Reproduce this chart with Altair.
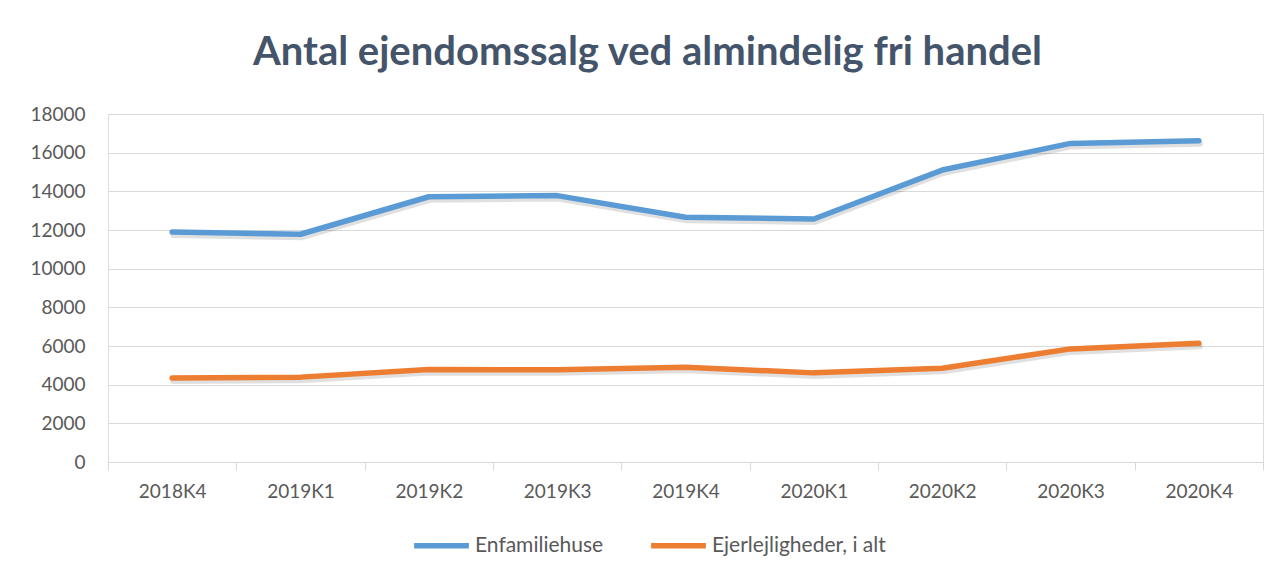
import altair as alt
import pandas as pd

quarters = ["2018K4", "2019K1", "2019K2", "2019K3", "2019K4", "2020K1", "2020K2", "2020K3", "2020K4"]
enfamiliehuse = [11900, 11780, 13720, 13780, 12660, 12570, 15100, 16480, 16620]
ejerlejligheder = [4340, 4390, 4790, 4770, 4900, 4610, 4850, 5850, 6140]
series_names = ["Enfamiliehuse", "Ejerlejligheder, i alt"]
series_colors = ["#5B9BD5", "#ED7D31"]
y_ticks = list(range(0, 18001, 2000))

rows = []
for q, v in zip(quarters, enfamiliehuse):
    rows.append({"kvartal": q, "serie": series_names[0], "antal": v})
for q, v in zip(quarters, ejerlejligheder):
    rows.append({"kvartal": q, "serie": series_names[1], "antal": v})
df = pd.DataFrame(rows)

FONT = "Lato"
W, H = 1155, 348

x_enc = alt.X("kvartal:O", sort=quarters, bandPosition=0.5,
              scale=alt.Scale(type="band", paddingInner=0, paddingOuter=0),
              axis=alt.Axis(title=None, labelAngle=0, tickBand="extent", tickSize=8,
                            tickColor="#D9D9D9", domainColor="#D9D9D9", grid=False,
                            labelFontSize=19, labelColor="#595959", labelFont=FONT,
                            labelPadding=12))
y_enc = alt.Y("antal:Q", scale=alt.Scale(domain=[0, 18000], nice=False),
              axis=alt.Axis(title=None, values=y_ticks, format="d", ticks=False, domain=False,
                            gridColor="#D9D9D9", labelFontSize=19, labelColor="#595959",
                            labelFont=FONT, labelPadding=23))

shadow = alt.Chart(df).mark_line(strokeWidth=6, color="#000000", opacity=0.12,
                                  xOffset=1, yOffset=3, strokeCap="round").encode(
    x=x_enc, y=y_enc, detail="serie:N"
)

lines = alt.Chart(df).mark_line(strokeWidth=5.5, strokeCap="round", strokeJoin="round").encode(
    x=x_enc, y=y_enc,
    color=alt.Color("serie:N", sort=series_names,
                    scale=alt.Scale(domain=series_names, range=series_colors),
                    legend=alt.Legend(title=None, orient="none", direction="horizontal",
                                      legendX=303, legendY=401, symbolType="stroke",
                                      symbolSize=3000, symbolStrokeWidth=5.5,
                                      labelFontSize=21, labelColor="#595959", labelFont=FONT,
                                      labelLimit=500, columnPadding=36, labelOffset=3))
)

chart = alt.layer(shadow, lines).properties(
    width=W, height=H,
    title=alt.TitleParams("Antal ejendomssalg ved almindelig fri handel", anchor="middle",
                          fontSize=40, font=FONT, fontWeight="bold", color="#44546A",
                          dx=-38, offset=32),
    autosize=alt.AutoSizeParams(type="none"),
    padding={"left": 100, "top": 106, "right": 6, "bottom": 106},
).configure_view(stroke=None).configure(background="white")

chart.save("out.html", embed_options={"renderer": "svg", "actions": False})
